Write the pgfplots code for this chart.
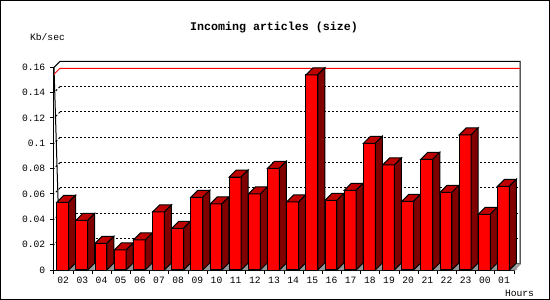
\documentclass[border=0pt]{standalone}
\usepackage{pgfplots}
\pgfplotsset{compat=1.18}
\usepackage{pgfplotstable}
\usepackage{fontspec}
\setmainfont{Liberation Mono}
\definecolor{barfront}{RGB}{255,0,0}
\definecolor{bartop}{RGB}{192,0,0}
\definecolor{barside}{RGB}{128,0,0}
\definecolor{floorgray}{RGB}{150,150,150}
\pgfdeclareplotmark{nothing}{}

\pgfplotstableread{
x y
0.5 0.0534
1.5 0.0392
2.5 0.0211
3.5 0.0158
4.5 0.0237
5.5 0.0458
6.5 0.0329
7.5 0.0574
8.5 0.0521
9.5 0.0734
10.5 0.0600
11.5 0.0803
12.5 0.0537
13.5 0.1540
14.5 0.0550
15.5 0.0629
16.5 0.1000
17.5 0.0829
18.5 0.0542
19.5 0.0874
20.5 0.0613
21.5 0.1066
22.5 0.0440
23.5 0.0661
}\incoming

\begin{document}
\begin{tikzpicture}
\begin{axis}[
  scale only axis, width=460bp, height=202.7bp,
  xmin=0, xmax=24, ymin=0, ymax=0.16,
  clip=false,
  axis x line*=bottom, axis y line*=left,
  axis line style={line width=1bp, -},
  tick align=outside, major tick length=4bp,
  tick style={line width=1bp, black},
  xtick={0,1,...,24},
  xticklabels={02,03,04,05,06,07,08,09,10,11,12,13,14,15,16,17,18,19,20,21,22,23,00,01,{}},
  xticklabel style={xshift=9.2bp, yshift=-3bp, font=\fontsize{9.7}{10}\selectfont, inner sep=0pt, anchor=north},
  ytick={0,0.02,0.04,0.06,0.08,0.1,0.12,0.14,0.16},
  yticklabels={0,0.02,0.04,0.06,0.08,0.1,0.12,0.14,0.16},
  yticklabel style={xshift=-4.5bp, font=\fontsize{9.7}{10}\selectfont, inner sep=0pt, anchor=east},
  scaled y ticks=false,
]
\coordinate (O) at (axis cs:0,0);
% back wall
\draw[line width=1bp] (axis cs:0,0.16) -- ([shift={(6bp,6bp)}]axis cs:0,0.16) -- ([shift={(6bp,6bp)}]axis cs:24,0.16) -- ([shift={(6bp,6bp)}]axis cs:24,0) -- ([shift={(6bp,6bp)}]axis cs:0,0) -- cycle;
\pgfplotsinvokeforeach{0.02,0.04,0.06,0.08,0.1,0.12,0.14}{
  \draw[black, line width=1bp, dash pattern=on 2bp off 2bp] ([shift={(6bp,6bp)}]axis cs:0,#1) -- ([shift={(6bp,6bp)}]axis cs:24,#1);
  \draw[black, line width=1bp, dash pattern=on 2bp off 2bp] ([shift={(6bp,6bp)}]axis cs:0,#1) -- (axis cs:0,#1);
}
\draw[floorgray, line width=1.5bp] (axis cs:24,0) -- ([shift={(6bp,6bp)}]axis cs:24,0);
\draw[red, line width=1bp] (axis cs:0,0.1545) -- ([shift={(6bp,6bp)}]axis cs:0,0.1545) -- ([shift={(6bp,6bp)}]axis cs:24,0.1545);
\addplot[scatter, only marks, mark=nothing,
  visualization depends on={rawy \as \val},
  scatter/@pre marker code/.code={%
    \pgfmathsetlengthmacro{\yb}{-\val*1266.875bp}%
    \pgfmathsetlengthmacro{\yc}{\yb+7bp}%
    \fill[floorgray] (5bp,\yb) -- (12bp,\yc) -- (12bp,\yb) -- cycle;
    \filldraw[fill=barfront,draw=black,line width=1bp] (-6.85bp,\yb) rectangle (5bp,0pt);
    \filldraw[fill=bartop,draw=black,line width=1bp] (-6.85bp,0pt) -- (0.15bp,7bp) -- (12bp,7bp) -- (5bp,0pt) -- cycle;
    \filldraw[fill=barside,draw=black,line width=1bp] (5bp,\yb) -- (12bp,\yc) -- (12bp,7bp) -- (5bp,0pt) -- cycle;
  },
  scatter/@post marker code/.code={},
] table[x=x, y=y] {\incoming};
\end{axis}
\pgfresetboundingbox
\useasboundingbox ([shift={(-54bp,-30bp)}]O) rectangle ([shift={(496bp,270bp)}]O);
\draw[line width=1bp] ([shift={(-53.5bp,-29.5bp)}]O) rectangle ([shift={(495.5bp,269.5bp)}]O);
\node[anchor=base, font=\fontsize{11.7}{12}\selectfont\bfseries, inner sep=0pt] at ([shift={(220bp,239bp)}]O) {Incoming articles (size)};
\node[anchor=base, font=\fontsize{9.7}{10}\selectfont, inner sep=0pt] at ([shift={(-6.5bp,229.3bp)}]O) {Kb/sec};
\node[anchor=base, font=\fontsize{9.7}{10}\selectfont, inner sep=0pt] at ([shift={(465.5bp,-26bp)}]O) {Hours};
\end{tikzpicture}
\end{document}
